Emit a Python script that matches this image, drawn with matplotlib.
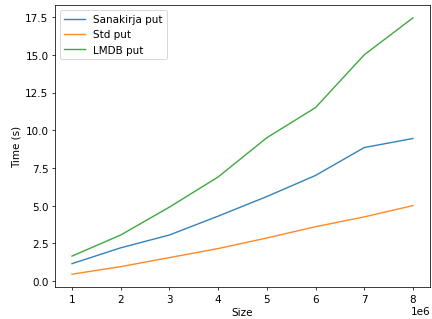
import matplotlib
matplotlib.use("Agg")
import matplotlib.pyplot as plt

plt.rcParams['font.size'] = 11

sizes = [1e6, 2e6, 3e6, 4e6, 5e6, 6e6, 7e6, 8e6]
sanakirja = [1.15, 2.2, 3.05, 4.3, 5.6, 7.0, 8.85, 9.45]
std = [0.45, 0.95, 1.55, 2.15, 2.85, 3.6, 4.25, 5.0]
lmdb = [1.65, 3.05, 4.9, 6.9, 9.5, 11.5, 15.0, 17.45]

fig, ax = plt.subplots(figsize=(6.4, 4.74), dpi=67.5)
ax.plot(sizes, sanakirja, label="Sanakirja put", alpha=0.9)
ax.plot(sizes, std, label="Std put", alpha=0.9)
ax.plot(sizes, lmdb, label="LMDB put", alpha=0.9)
ax.set_xlabel("Size")
ax.set_ylabel("Time (s)")
ax.legend(loc="upper left")
fig.subplots_adjust(left=55/432, right=430/432, top=1-6/320, bottom=1-288/320)
fig.savefig("out.png")
